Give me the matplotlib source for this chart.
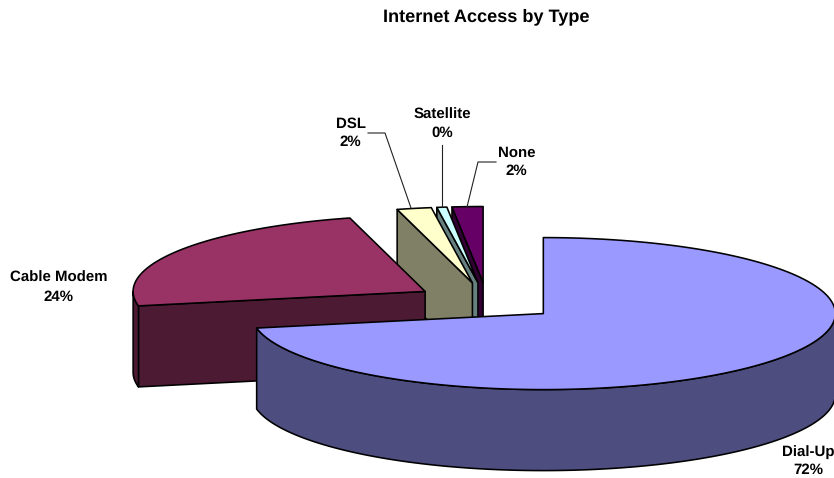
import numpy as np
import matplotlib
matplotlib.use("Agg")
import matplotlib.pyplot as plt
from matplotlib.patches import Polygon

plt.rcParams["font.family"] = ["Liberation Sans", "DejaVu Sans"]
plt.rcParams["text.hinting"] = "none"

# slices in pie order, clockwise from 12 o'clock
categories = ["Dial-Up", "Cable Modem", "DSL", "Satellite", "None"]
shares = [71.95, 23.9, 1.9, 0.55, 1.7]
pct_labels = ["72%", "24%", "2%", "0%", "2%"]
top_colors = ["#9999FF", "#993366", "#FFFFCC", "#CCFFFF", "#660066"]
side_colors = ["#4D4D80", "#4D1A33", "#808066", "#668080", "#330033"]

# 3d pie projection, in pixels
CX, CY = 487.0, 301.5
RX, RY = 292.0, 76.0
DEPTH = 81.0
EXPLODE = 0.25
LW = 1.15


def ring(cx, cy, a0, a1):
    t = np.radians(np.linspace(a0, a1, max(int(abs(a1 - a0) * 2), 2)))
    return np.column_stack([cx + RX * np.sin(t), cy - RY * np.cos(t)])


def add_poly(ax, pts, color, z):
    ax.add_patch(Polygon(pts, closed=True, facecolor=color, edgecolor="black",
                         linewidth=LW, joinstyle="round", zorder=z))


def draw_slice(ax, a0, a1, top, side, z):
    mid = np.radians((a0 + a1) / 2)
    cx = CX + EXPLODE * RX * np.sin(mid)
    cy = CY - EXPLODE * RY * np.cos(mid)
    apex = np.array([[cx, cy]])
    down = np.array([0, DEPTH])

    # cut face at the start of the slice, it looks towards the viewer on the left half
    if a0 > 180:
        edge = ring(cx, cy, a0, a0)[:1]
        face = np.vstack([edge, apex, apex + down, edge + down])
        add_poly(ax, face, side, z)

    # outer rim, only the front half of the ellipse shows
    r0, r1 = max(a0, 90), min(a1, 270)
    if r1 > r0:
        arc = ring(cx, cy, r0, r1)
        add_poly(ax, np.vstack([arc, arc[::-1] + down]), side, z + 0.1)

    add_poly(ax, np.vstack([apex, ring(cx, cy, a0, a1)]), top, z + 0.2)


fig = plt.figure(figsize=(8.34, 4.78), dpi=100)
ax = fig.add_axes([0, 0, 1, 1])
ax.set_xlim(0, 834)
ax.set_ylim(478, 0)
ax.axis("off")

edges = np.concatenate([[0], np.cumsum(shares)]) / sum(shares) * 360
# back slices first so the big front slice ends up on top
for i in range(len(shares) - 1, -1, -1):
    draw_slice(ax, edges[i], edges[i + 1], top_colors[i], side_colors[i], 10 - 2 * i)

# leader lines
for xs, ys in [([368, 385, 411], [133, 133, 208]),
               ([442, 442], [145, 207]),
               ([496, 478, 467], [162, 162, 207])]:
    ax.plot(xs, ys, color="#222222", lw=0.8, zorder=20)

label_pos = [(808, 461), (58.5, 287.5), (350.5, 133), (442, 124), (516.5, 162)]
for name, pct, (x, y) in zip(categories, pct_labels, label_pos):
    ax.text(x, y, name + "\n" + pct, ha="center", va="center", fontsize=10.8,
            fontweight="bold", linespacing=1.42, zorder=30)

ax.text(486.5, 17, "Internet Access by Type", ha="center", va="center",
        fontsize=13.1, fontweight="bold")

fig.savefig("out.png", dpi=100)
plt.close(fig)
